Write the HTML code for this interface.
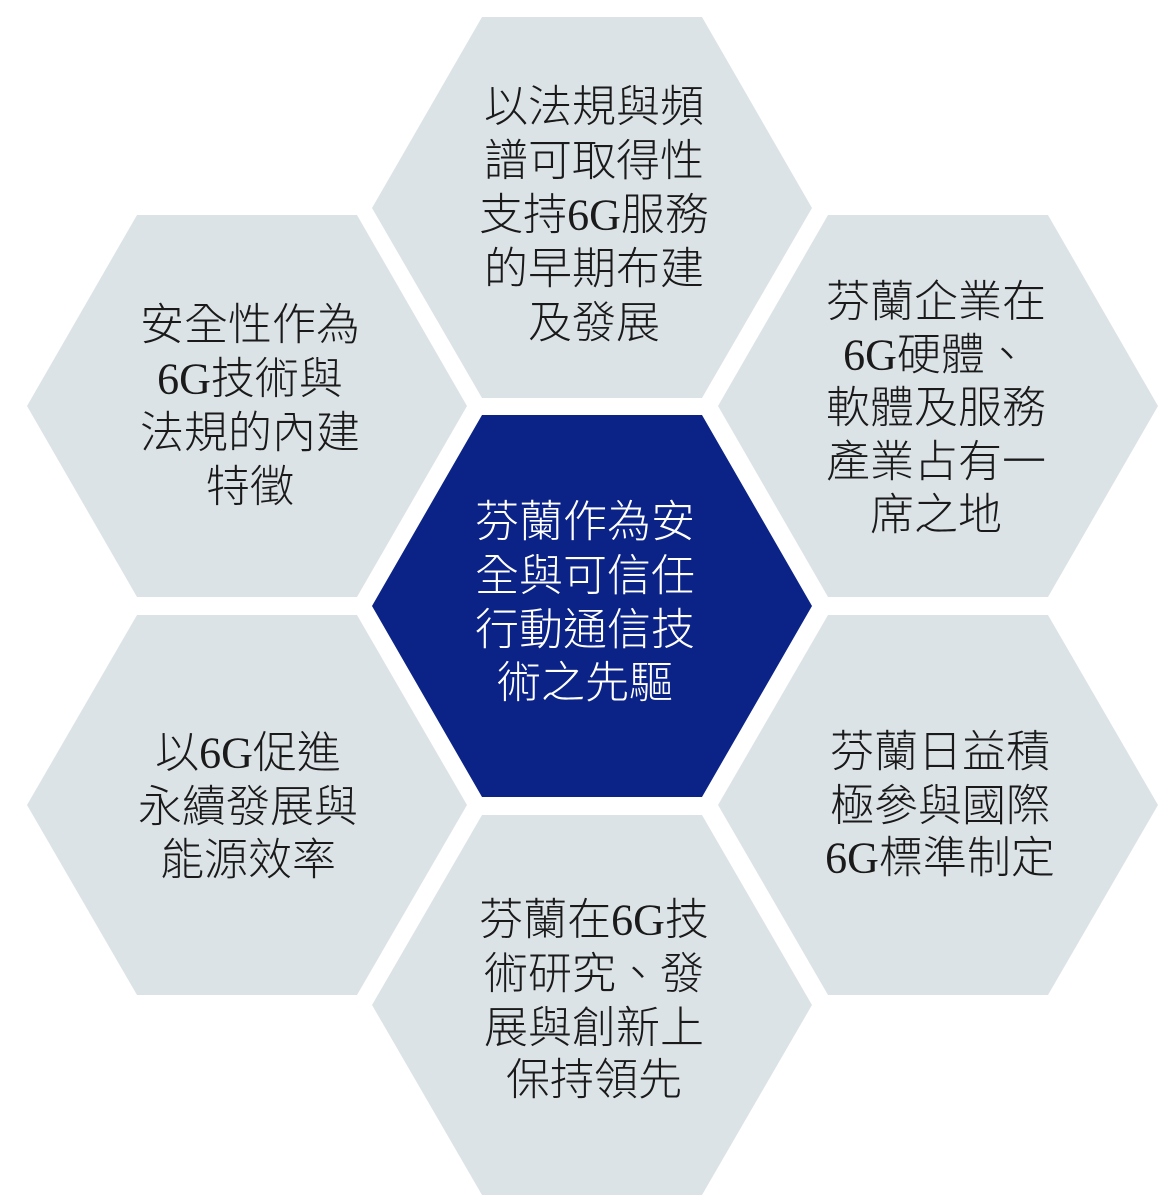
<!DOCTYPE html>
<html><head><meta charset="utf-8"><style>
html,body{margin:0;padding:0;background:#fff}
svg{display:block}
text{font-family:"Liberation Serif","Noto Sans CJK TC",sans-serif;font-weight:300;font-size:44px;text-anchor:middle;dominant-baseline:central;fill:#1a1a1a}
text.w{fill:#ffffff}
</style></head><body>
<svg width="1168" height="1200" viewBox="0 0 1168 1200" xmlns="http://www.w3.org/2000/svg">
<g fill="#dce3e6">
<polygon points="482,17 702,17 812,208 702,398 482,398 372,208"/>
<polygon points="482,815 702,815 812,1005 702,1195 482,1195 372,1005"/>
<polygon points="137,215 357,215 467,406 357,597 137,597 27,406"/>
<polygon points="137,615 357,615 467,805 357,995 137,995 27,805"/>
<polygon points="828,215 1048,215 1158,406 1048,597 828,597 718,406"/>
<polygon points="828,615 1048,615 1158,805 1048,995 828,995 718,805"/>
</g>
<polygon points="482,415 702,415 812,606 702,797 482,797 372,606" fill="#0b2387"/>
<text x="594" y="107">以法規與頻</text>
<text x="594" y="161">譜可取得性</text>
<text x="594" y="215">支持6G服務</text>
<text x="594" y="269">的早期布建</text>
<text x="594" y="323">及發展</text>
<text x="250" y="325">安全性作為</text>
<text x="250" y="379">6G技術與</text>
<text x="250" y="433">法規的內建</text>
<text x="250" y="487">特徵</text>
<text x="936" y="302">芬蘭企業在</text>
<text x="936" y="355">6G硬體、</text>
<text x="936" y="408">軟體及服務</text>
<text x="936" y="462">產業占有一</text>
<text x="936" y="515">席之地</text>
<text class="w" x="585" y="522">芬蘭作為安</text>
<text class="w" x="585" y="576">全與可信任</text>
<text class="w" x="585" y="630">行動通信技</text>
<text class="w" x="585" y="683">術之先驅</text>
<text x="248" y="753">以6G促進</text>
<text x="248" y="807">永續發展與</text>
<text x="248" y="860">能源效率</text>
<text x="940" y="752">芬蘭日益積</text>
<text x="940" y="806">極參與國際</text>
<text x="940" y="858">6G標準制定</text>
<text x="594" y="920">芬蘭在6G技</text>
<text x="594" y="974">術研究、發</text>
<text x="594" y="1028">展與創新上</text>
<text x="594" y="1080">保持領先</text>
</svg>
</body></html>
